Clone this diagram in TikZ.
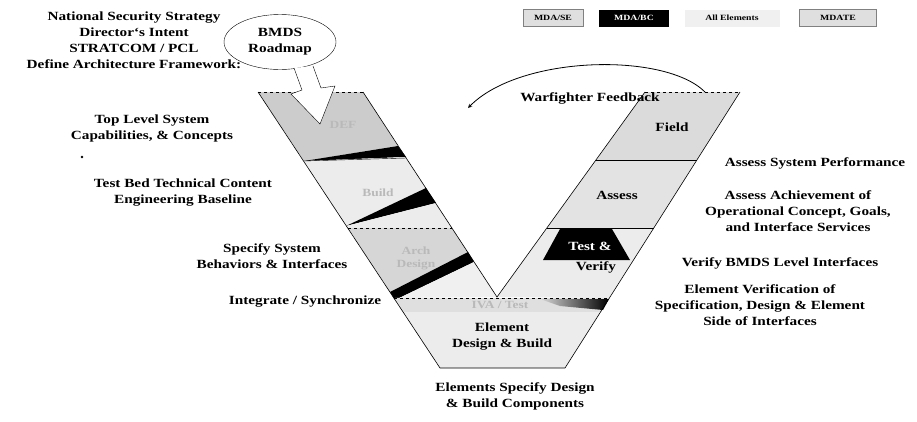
\documentclass[tikz,border=0pt]{standalone}
\usepackage{fontspec}
\setmainfont{Liberation Serif}[FakeStretch=1.22]
\usetikzlibrary{shapes.geometric, arrows}
\tikzstyle{lbl} = [font=\bfseries\fontsize{12.5}{16}\selectfont, align=center, inner sep=0]
\tikzstyle{band} = [font=\bfseries\fontsize{11}{13}\selectfont, align=center, inner sep=0, text=gray!55]
\tikzstyle{key} = [font=\bfseries\fontsize{8}{9}\selectfont, minimum height=17pt, inner sep=2pt]
\tikzstyle{arrow} = [thick,->,>=stealth]

\begin{document}
\begin{tikzpicture}[x=1pt,y=-1pt]
\useasboundingbox (0,0) rectangle (917,421);

% left arm
\fill[gray!40] (258,92)--(363,92)--(398,146)--(304,161)--cycle;
\fill (304,161)--(398,146)--(406,157)--cycle;
\fill[gray!15] (304,161)--(406,157)--(426,188)--(346,226)--cycle;
\fill (346,226)--(426,188)--(436,203)--cycle;
\fill[gray!15] (346,226)--(436,203)--(452,228)--(348,228)--cycle;
\fill[gray!32] (348,228)--(452,228)--(468,252)--(390,292)--cycle;
\fill (390,292)--(468,252)--(474,262)--(395,300)--cycle;
\fill[gray!12] (395,300)--(474,262)--(497,297)--(394,298)--cycle;
\draw[thin] (304,161)--(406,158);
\draw[thin,dashed] (348,228)--(452,228);

% right arm
\fill[gray!28] (645,92)--(740,92)--(697,160)--(596,160)--cycle;
\fill[gray!22] (596,160)--(697,160)--(654,228)--(547,228)--cycle;
\fill[gray!15] (547,228)--(654,228)--(609,298)--(497,297)--cycle;
\fill (560,229)--(612,229)--(630,260)--(543,260)--cycle;
\draw (596,160)--(697,160);
\draw (547,228)--(654,228);

% bottom
\fill[gray!25] (394,298)--(609,298)--(601,312)--(403,312)--cycle;
\shade[left color=gray!30, right color=black] (540,299)--(609,299)--(603,310)--(560,306)--cycle;
\fill[gray!15] (403,312)--(601,312)--(565,368)--(440,368)--cycle;
\draw[thin,dashed] (394,298)--(609,298);

% outline
\draw[semithick] (258,92)--(440,368)--(565,368)--(740,92);
\draw[semithick] (363,92)--(497,297)--(645,92);
\draw[thin,dashed] (258,92)--(363,92) (645,92)--(740,92);

% band labels
\node[band] (def) at (343,125) {DEF};
\node[band] (bld) at (378,193) {Build};
\node[band] (arch) at (416,258) {Arch\\Design};
\node[band] (iva) at (500,305) {IVA / Test};
\node[lbl] (field) at (672,127) {Field};
\node[lbl] (assess) at (617,195) {Assess};
\node[lbl, text=white] (test) at (590,246) {Test \&};
\node[lbl] (verify) at (596,267) {Verify};
\node[lbl] (elem) at (502,337) {Element\\Design \& Build};

% callout
\node[ellipse, draw, fill=white, minimum width=112pt, minimum height=55pt, lbl] (bmds) at (280,42) {BMDS\\Roadmap};
\draw[fill=white] (294,68)--(302,90)--(291,94)--(320,124)--(335,86)--(321,88)--(313,66);

% feedback
\coordinate (fbstart) at (705,92);
\coordinate (fbend) at (468,108);
\draw[arrow] (fbstart) .. controls (665,52) and (520,55) .. (fbend);
\node[lbl] (fb) at (590,98) {Warfighter Feedback};

% left texts
\node[lbl] (nss) at (134,40) {National Security Strategy\\Director`s Intent\\STRATCOM / PCL\\Define Architecture Framework:};
\node[lbl] (tls) at (152,128) {Top Level System\\Capabilities, \& Concepts};
\fill (82,157) circle (1.3);
\node[lbl] (tbed) at (183,193) {Test Bed Technical Content\\Engineering Baseline};
\node[lbl] (spec) at (272,256) {Specify System\\Behaviors \& Interfaces};
\node[lbl] (integ) at (305,302) {Integrate / Synchronize};

% right texts
\node[lbl] (asp) at (815,163) {Assess System Performance};
\node[lbl] (aach) at (798,211) {Assess Achievement of\\Operational Concept, Goals,\\and Interface Services};
\node[lbl] (vbl) at (780,263) {Verify BMDS Level Interfaces};
\node[lbl] (ever) at (760,305) {Element Verification of\\Specification, Design \& Element\\Side of Interfaces};
\node[lbl] (espec) at (515,396) {Elements Specify Design\\\& Build Components};

% legend
\node[key, fill=gray!25, minimum width=60pt, draw=gray] (kse) at (553,18) {MDA/SE};
\node[key, fill=black, text=white, minimum width=70pt] (kbc) at (634,18) {MDA/BC};
\node[key, fill=gray!12, minimum width=95pt] (kall) at (732,18) {All Elements};
\node[key, fill=gray!25, minimum width=77pt, draw=gray] (kte) at (838,18) {MDATE};
\end{tikzpicture}
\end{document}
